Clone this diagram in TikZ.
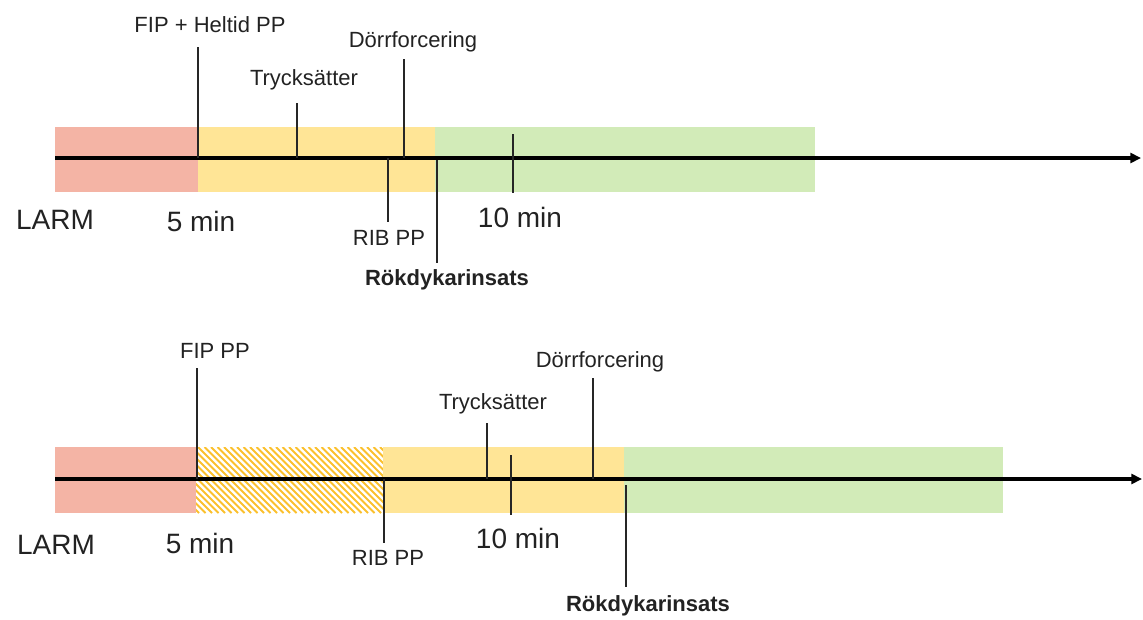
\documentclass[tikz,border=0pt]{standalone}
\usepackage{fontspec}
\setmainfont{Liberation Sans}
\usetikzlibrary{arrows.meta}
\definecolor{cred}{HTML}{F4B4A5}
\definecolor{cyel}{HTML}{FFE596}
\definecolor{cgrn}{HTML}{D2EBB8}
\definecolor{chatch}{HTML}{FBC02D}
\definecolor{ctext}{HTML}{222222}
\tikzset{
  axis/.style={line width=2.3pt, -{Triangle[length=8pt,width=7.5pt]}},
  tick/.style={line width=1.7pt, black!85},
  hatchline/.style={chatch, line width=1.5pt},
  lbl/.style={inner sep=0pt, text=ctext, font=\fontsize{16.5}{18}\selectfont},
  big/.style={inner sep=0pt, text=ctext, font=\fontsize{21}{24}\selectfont},
  boldlbl/.style={inner sep=0pt, text=ctext, font=\fontsize{16.5}{18}\selectfont\bfseries},
}
\begin{document}
\begin{tikzpicture}[x=0.75pt,y=-0.75pt]
\useasboundingbox (0,0) rectangle (1143,619);
% ---------- top timeline ----------
\fill[cred] (55,127) rectangle (198,192);
\fill[cyel] (198,127) rectangle (435,192);
\fill[cgrn] (435,127) rectangle (815,192);
\coordinate (a1s) at (55,158);
\coordinate (a1e) at (1141,158);
\draw[axis] (a1s) -- (a1e);
% ticks
\coordinate (t1a) at (198,47);  \coordinate (t1b) at (198,158);
\coordinate (t2a) at (297,103); \coordinate (t2b) at (297,158);
\coordinate (t3a) at (404,59);  \coordinate (t3b) at (404,158);
\coordinate (t4a) at (388,158); \coordinate (t4b) at (388,222);
\coordinate (t5a) at (437,160); \coordinate (t5b) at (437,263);
\coordinate (t6a) at (513,134); \coordinate (t6b) at (513,193);
\draw[tick] (t1a) -- (t1b);
\draw[tick] (t2a) -- (t2b);
\draw[tick] (t3a) -- (t3b);
\draw[tick] (t4a) -- (t4b);
\draw[tick] (t5a) -- (t5b);
\draw[tick] (t6a) -- (t6b);
% labels
\node[lbl] (l1) at (210,25) {FIP + Heltid PP};
\node[lbl] (l2) at (304,80) {Trycksätter};
\node[lbl] (l3) at (413,42) {Dörrforcering};
\node[lbl] (l4) at (389,238) {RIB PP};
\node[boldlbl] (l5) at (447,280) {Rökdykarinsats};
\node[big] (l6) at (520,217) {10 min};
\node[big] (l7) at (55,220) {LARM};
\node[big] (l8) at (201,221) {5 min};
% ---------- bottom timeline ----------
\fill[cred] (55,447) rectangle (196,513);
\begin{scope}
  \clip (196,447) rectangle (383,513);
  \foreach \x in {120,126.5,...,400} {
    \draw[hatchline] (\x,447) -- (\x+66,513);
  }
\end{scope}
\fill[cyel] (383,447) rectangle (624,513);
\fill[cgrn] (624,447) rectangle (1003,513);
\coordinate (a2s) at (55,479);
\coordinate (a2e) at (1142,479);
\draw[axis] (a2s) -- (a2e);
\coordinate (u1a) at (197,368); \coordinate (u1b) at (197,479);
\coordinate (u2a) at (384,479); \coordinate (u2b) at (384,543);
\coordinate (u3a) at (487,423); \coordinate (u3b) at (487,479);
\coordinate (u4a) at (511,455); \coordinate (u4b) at (511,515);
\coordinate (u5a) at (593,378); \coordinate (u5b) at (593,479);
\coordinate (u6a) at (626,485); \coordinate (u6b) at (626,587);
\draw[tick] (u1a) -- (u1b);
\draw[tick] (u2a) -- (u2b);
\draw[tick] (u3a) -- (u3b);
\draw[tick] (u4a) -- (u4b);
\draw[tick] (u5a) -- (u5b);
\draw[tick] (u6a) -- (u6b);
\node[lbl] (m1) at (215,351) {FIP PP};
\node[lbl] (m2) at (388,558) {RIB PP};
\node[lbl] (m3) at (493,404) {Trycksätter};
\node[lbl] (m4) at (600,362) {Dörrforcering};
\node[boldlbl] (m5) at (648,606) {Rökdykarinsats};
\node[big] (m6) at (518,538) {10 min};
\node[big] (m7) at (56,545) {LARM};
\node[big] (m8) at (200,543) {5 min};
\end{tikzpicture}
\end{document}
